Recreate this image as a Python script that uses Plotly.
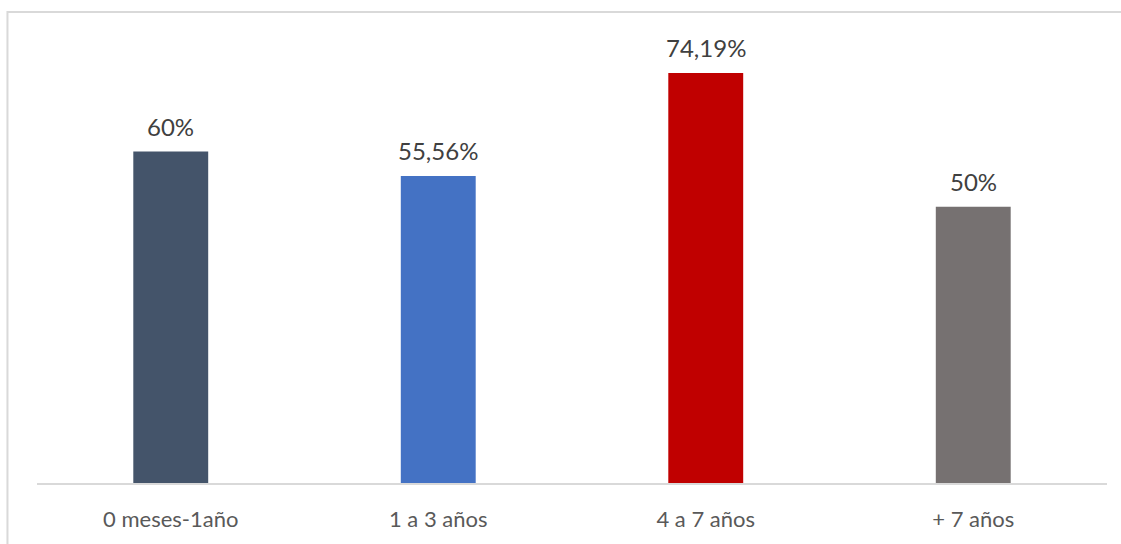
import plotly.graph_objects as go

categories = ["0 meses-1año", "1 a 3 años", "4 a 7 años", "+ 7 años"]
values = [0.60, 0.5556, 0.7419, 0.50]
labels = ["60%", "55,56%", "74,19%", "50%"]
colors = ["#44546A", "#4472C4", "#C00000", "#767171"]

FONT = "Lato, Noto Sans, sans-serif"

fig = go.Figure(go.Bar(
    x=categories, y=values,
    marker=dict(color=colors, line=dict(width=0)),
    cliponaxis=False, hoverinfo="x+y",
))

for c, v, t in zip(categories, values, labels):
    fig.add_annotation(x=c, y=v, text=t, showarrow=False, yanchor="bottom",
                       yshift=9, font=dict(family=FONT, size=24, color="#404040"))

fig.update_layout(
    width=1121, height=544,
    margin=dict(l=37, r=14, t=41, b=43),
    paper_bgcolor="white", plot_bgcolor="white",
    bargap=0.72,
    showlegend=False,
    font=dict(family=FONT, color="#595959"),
    shapes=[dict(type="rect", xref="paper", yref="paper",
                 x0=-0.0276, x1=1.03, y0=-0.2, y1=1.0658,
                 line=dict(color="#D9D9D9", width=2), layer="below")],
)
fig.update_xaxes(showline=True, linecolor="#D9D9D9", linewidth=2,
                 ticks="", tickfont=dict(family=FONT, size=22, color="#595959"),
                 ticklabelstandoff=16)
fig.update_yaxes(range=[0, 0.8], visible=False, showgrid=False)

fig.write_html("out.html", config={"displayModeBar": False},
               post_script="document.body.style.margin='0px';")
